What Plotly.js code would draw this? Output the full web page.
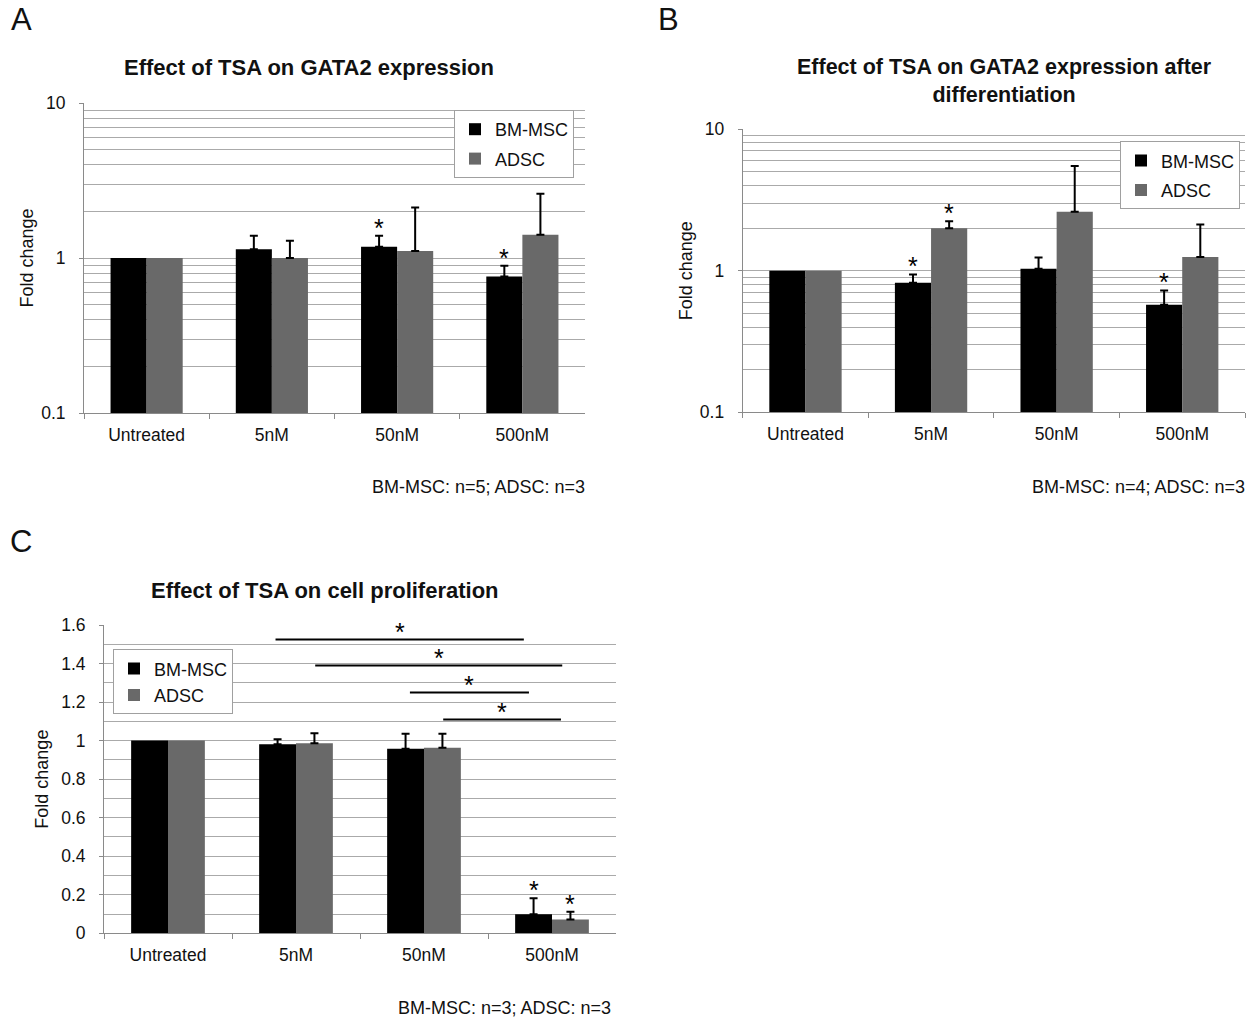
<!DOCTYPE html>
<html>
<head>
<meta charset="utf-8">
<script src="https://cdn.plot.ly/plotly-3.0.1.min.js"></script>
<style>
  html, body { margin: 0; padding: 0; background: #ffffff; }
  #chart { width: 1254px; height: 1017px; }
</style>
</head>
<body>
<div id="chart"></div>
<script>
// ---------------- data ----------------
const categories = ['Untreated', '5nM', '50nM', '500nM'];
const seriesNames = ['BM-MSC', 'ADSC'];

// Panel A: Effect of TSA on GATA2 expression (log scale)
const bmA    = [1.00, 1.14, 1.18, 0.76];
const bmAErr = [null, 0.25, 0.21, 0.13];
const adA    = [1.00, 1.00, 1.11, 1.41];
const adAErr = [null, 0.29, 1.01, 1.19];
const starsA = [[2, 0], [3, 0]];           // [category index, series index]

// Panel B: Effect of TSA on GATA2 expression after differentiation (log scale)
const bmB    = [1.00, 0.82, 1.03, 0.575];
const bmBErr = [null, 0.12, 0.21, 0.15];
const adB    = [1.00, 1.99, 2.61, 1.25];
const adBErr = [null, 0.24, 2.87, 0.87];
const starsB = [[1, 0], [1, 1], [3, 0]];

// Panel C: Effect of TSA on cell proliferation (linear)
const bmC    = [1.00, 0.981, 0.958, 0.099];
const bmCErr = [null, 0.026, 0.078, 0.083];
const adC    = [1.00, 0.986, 0.963, 0.071];
const adCErr = [null, 0.052, 0.073, 0.041];
const starsC = [[3, 0], [3, 1]];

// Panel C significance brackets (x in category units, y in fold change)
const sigFrom = [0.84, 1.15, 1.89, 2.15];
const sigTo   = [2.78, 3.08, 2.82, 3.07];
const sigY    = [1.525, 1.39, 1.25, 1.11];

const titleA = 'Effect of TSA on GATA2 expression';
const titleB = 'Effect of TSA on GATA2 expression after<br>differentiation';
const titleC = 'Effect of TSA on cell proliferation';
const noteA = 'BM-MSC: n=5; ADSC: n=3';
const noteB = 'BM-MSC: n=4; ADSC: n=3';
const noteC = 'BM-MSC: n=3; ADSC: n=3';
const yTitle = 'Fold change';

// ---------------- styling ----------------
const W = 1254, H = 1017;
const FONT = 'Liberation Sans, Arial, sans-serif';
const TXT = '#111111';
const colors = ['#000000', '#696969'];
const gridColor = '#aaaaaa';
const axisColor = '#8a8a8a';
const BARGAP = 0.424;
const barOffset = (1 - BARGAP) / 4;   // centre offset of each bar within group

function px(x) { return x / W; }
function py(y) { return 1 - y / H; }

function barTrace(name, vals, errs, si, xa, ya, legendName) {
  const plus = errs.map(e => (e === null ? NaN : e));
  const minus = errs.map(e => (e === null ? NaN : 0));
  return {
    type: 'bar', name: name, x: categories, y: vals,
    xaxis: xa, yaxis: ya, legend: legendName,
    legendgroup: legendName + name,
    marker: { color: colors[si], line: { width: 0 } },
    error_y: {
      type: 'data', symmetric: false, array: plus, arrayminus: minus,
      color: '#000000', thickness: 2, width: 4
    },
    hoverinfo: 'skip'
  };
}

const traces = [
  barTrace(seriesNames[0], bmA, bmAErr, 0, 'x', 'y', 'legend'),
  barTrace(seriesNames[1], adA, adAErr, 1, 'x', 'y', 'legend'),
  barTrace(seriesNames[0], bmB, bmBErr, 0, 'x2', 'y2', 'legend2'),
  barTrace(seriesNames[1], adB, adBErr, 1, 'x2', 'y2', 'legend2'),
  barTrace(seriesNames[0], bmC, bmCErr, 0, 'x3', 'y3', 'legend3'),
  barTrace(seriesNames[1], adC, adCErr, 1, 'x3', 'y3', 'legend3')
];

// minor gridlines for log axes
const logMinor = [];
[0.1, 1].forEach(d => { for (let k = 2; k <= 9; k++) logMinor.push(+(k * d).toFixed(2)); });

function xAxis(domain, anchor) {
  return {
    domain: domain, anchor: anchor, type: 'category',
    showline: true, linecolor: axisColor, linewidth: 1,
    ticks: 'outside', tickson: 'boundaries', ticklen: 5, tickcolor: axisColor,
    showgrid: false, zeroline: false,
    tickfont: { family: FONT, size: 17.5, color: TXT },
    ticklabelstandoff: 6, fixedrange: true
  };
}
function logYAxis(domain, anchor) {
  return {
    domain: domain, anchor: anchor, type: 'log', range: [-1, 1],
    tickmode: 'array', tickvals: [0.1, 1, 10], ticktext: ['0.1', '1', '10'],
    showline: true, linecolor: axisColor, linewidth: 1,
    ticks: 'outside', ticklen: 4, tickcolor: axisColor,
    showgrid: true, gridcolor: gridColor, gridwidth: 1,
    minor: { tickmode: 'array', tickvals: logMinor, showgrid: true, gridcolor: gridColor, gridwidth: 1, ticks: '' },
    zeroline: false,
    tickfont: { family: FONT, size: 17.5, color: TXT },
    ticklabelstandoff: 10,
    title: { text: yTitle, font: { family: FONT, size: 18, color: TXT }, standoff: 2 },
    fixedrange: true
  };
}
function legendBox(x, y, gap) {
  return {
    x: px(x), y: py(y), xanchor: 'left', yanchor: 'top',
    bgcolor: '#ffffff', bordercolor: '#a0a0a0', borderwidth: 1,
    font: { family: FONT, size: 18, color: TXT },
    traceorder: 'grouped', tracegroupgap: gap, itemwidth: 30
  };
}

const layout = {
  width: W, height: H,
  margin: { l: 0, r: 0, t: 0, b: 0 },
  paper_bgcolor: '#ffffff', plot_bgcolor: '#ffffff',
  font: { family: FONT, color: TXT },
  barmode: 'group', bargap: BARGAP, bargroupgap: 0,
  showlegend: true,
  xaxis: xAxis([px(84), px(585)], 'y'),
  yaxis: logYAxis([py(413), py(103)], 'x'),
  xaxis2: xAxis([px(742.7), px(1245)], 'y2'),
  yaxis2: logYAxis([py(412.3), py(129)], 'x2'),
  xaxis3: xAxis([px(104), px(616)], 'y3'),
  yaxis3: {
    domain: [py(933.3), py(625)], anchor: 'x3', range: [0, 1.6],
    dtick: 0.2, tick0: 0,
    showline: true, linecolor: axisColor, linewidth: 1,
    ticks: 'outside', ticklen: 4, tickcolor: axisColor,
    showgrid: true, gridcolor: gridColor, gridwidth: 1,
    minor: { dtick: 0.1, showgrid: true, gridcolor: gridColor, gridwidth: 1, ticks: '' },
    zeroline: false,
    tickfont: { family: FONT, size: 17.5, color: TXT },
    ticklabelstandoff: 10,
    title: { text: yTitle, font: { family: FONT, size: 18, color: TXT }, standoff: 7 },
    fixedrange: true
  },
  legend: legendBox(454, 110, 3),
  legend2: legendBox(1120, 141.3, 3),
  legend3: legendBox(113, 649.3, 0),
  shapes: [],
  annotations: []
};

// titles, panel letters, notes
function paperText(text, x, y, size, opts) {
  return Object.assign({
    xref: 'paper', yref: 'paper', x: px(x), y: py(y),
    text: text, showarrow: false,
    font: { family: FONT, size: size, color: TXT },
    xanchor: 'center', yanchor: 'middle'
  }, opts || {});
}
layout.annotations.push(
  paperText('<b>' + titleA + '</b>', 308.5, 68, 22),
  paperText('<b>' + titleB + '</b>', 1004.5, 81, 21.5),
  paperText('<b>' + titleC + '</b>', 324.5, 590, 22),
  paperText('A', 21.5, 20, 31),
  paperText('B', 668, 20, 31),
  paperText('C', 21, 541, 31),
  paperText(noteA, 587, 487, 18, { xanchor: 'right' }),
  paperText(noteB, 1247, 487, 18, { xanchor: 'right' }),
  paperText(noteC, 613, 1008, 18, { xanchor: 'right' })
);

// significance stars above error bars
function addStars(stars, series, errs, xa, ya, isLog) {
  stars.forEach(([ci, si]) => {
    const top = series[si][ci] + (errs[si][ci] || 0);
    layout.annotations.push({
      xref: xa, yref: ya,
      x: ci + (si === 0 ? -barOffset : barOffset),
      y: isLog ? Math.log10(top) : top,
      text: '*', showarrow: false,
      font: { family: FONT, size: 25, color: '#000' },
      xanchor: 'center', yanchor: 'bottom', yshift: -8
    });
  });
}
addStars(starsA, [bmA, adA], [bmAErr, adAErr], 'x', 'y', true);
addStars(starsB, [bmB, adB], [bmBErr, adBErr], 'x2', 'y2', true);
addStars(starsC, [bmC, adC], [bmCErr, adCErr], 'x3', 'y3', false);

// significance brackets in panel C
sigY.forEach((yv, i) => {
  layout.shapes.push({
    type: 'line', xref: 'x3', yref: 'y3',
    x0: sigFrom[i], x1: sigTo[i], y0: yv, y1: yv,
    line: { color: '#000000', width: 2 }
  });
  layout.annotations.push({
    xref: 'x3', yref: 'y3', x: (sigFrom[i] + sigTo[i]) / 2, y: yv,
    text: '*', showarrow: false,
    font: { family: FONT, size: 25, color: '#000' },
    xanchor: 'center', yanchor: 'bottom', yshift: -9
  });
});

Plotly.newPlot('chart', traces, layout, { displayModeBar: false, staticPlot: true });
</script>
</body>
</html>
